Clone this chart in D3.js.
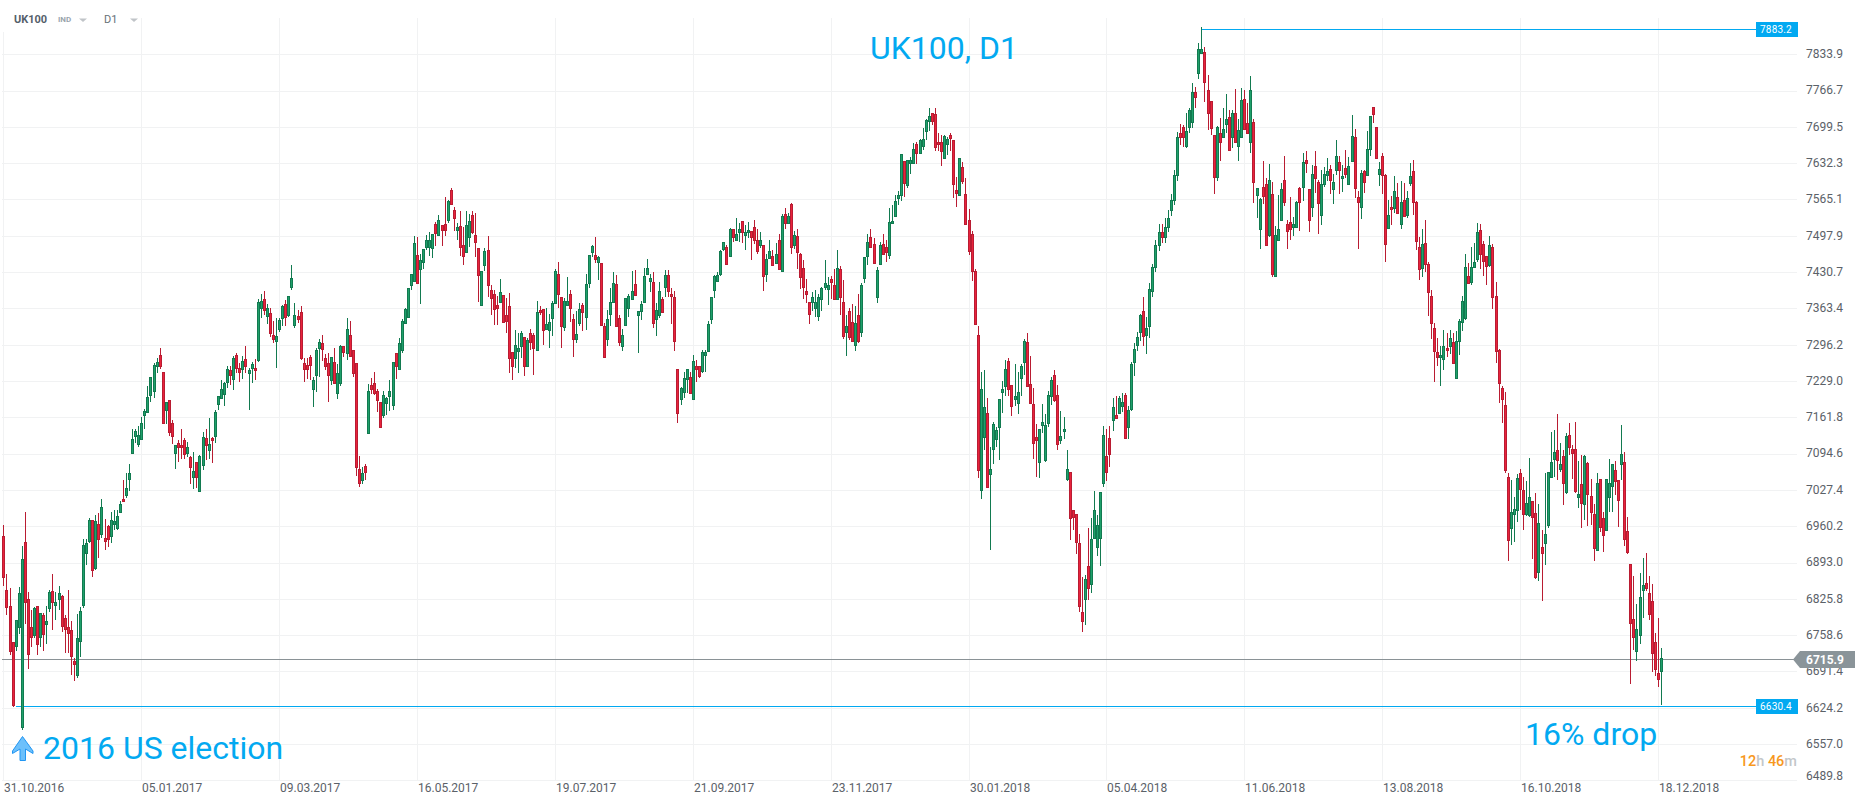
<!DOCTYPE html>
<html lang="en">
<head>
  <meta charset="UTF-8">
  <title>UK100, D1</title>
  <script src="https://d3js.org/d3.v7.min.js"></script>
  <style>
    html, body { margin: 0; background: #fff; }
    svg { display: block; font-family: Roboto, sans-serif; }
  </style>
</head>
<body>
  <svg width="1866" height="806"></svg>
  <script>
    // Daily candles as [open, high, low, close], one array per date tick
    const from31102016 = [[6942,6962,6850,6867],[6842,6871,6796,6811],[6813,6845,6722,6730],[6745,6745,6626,6629],[6738,6787,6730,6787],[6774,6848,6761,6836],[6588,6924,6582,6899],[6931,6987,6780,6819],[6825,6839,6696,6724],[6773,6805,6737,6756],[6759,6811,6753,6808],[6813,6813,6722,6742],[6756,6799,6737,6799],[6796,6799,6730,6761],[6779,6813,6742,6785],[6809,6843,6801,6838],[6840,6871,6768,6819],[6815,6839,6787,6820],[6825,6850,6805,6836],[6831,6832,6765,6776],[6790,6796,6726,6770],[6773,6843,6725,6762],[6768,6784,6685,6720],[6711,6716,6674,6706],[6684,6798,6680,6753],[6748,6810,6719,6803],[6815,6936,6809,6925],[6911,6937,6888,6930],[6932,6975,6929,6971],[6971,6971,6867,6880],[6882,6981,6879,6969],[6964,6984,6901,6936],[6946,7011,6938,6995],[6938,6973,6916,6933],[6961,6962,6922,6937],[6943,6987,6930,6971],[6964,6991,6953,6969],[6957,6990,6954,6979],[6987,7006,6987,7001],[7010,7046,7006,7006],[7018,7058,7012,7031],[7048,7075,7025,7058],[7096,7141,7096,7121],[7127,7141,7114,7136],[7113,7145,7106,7130]];
    const from05012017 = [[7122,7162,7120,7151],[7167,7178,7141,7174],[7172,7220,7169,7199],[7204,7236,7191,7236],[7211,7263,7197,7259],[7257,7271,7243,7265],[7277,7290,7251,7256],[7246,7246,7149,7151],[7175,7190,7149,7190],[7194,7194,7127,7135],[7151,7157,7112,7128],[7096,7111,7066,7110],[7114,7120,7079,7106],[7110,7140,7085,7106],[7119,7123,7084,7094],[7096,7117,7089,7106],[7088,7090,7038,7070],[7052,7098,7030,7062],[7080,7080,7031,7052],[7026,7092,7024,7091],[7074,7135,7064,7125],[7123,7141,7082,7111],[7101,7160,7084,7112],[7123,7126,7078,7119],[7128,7175,7115,7171],[7186,7201,7175,7201],[7198,7230,7195,7214],[7205,7228,7183,7225],[7228,7256,7217,7251],[7249,7257,7222,7241],[7233,7275,7212,7271],[7277,7280,7244,7254],[7253,7262,7228,7246],[7251,7275,7232,7267],[7269,7294,7244,7256],[7244,7253,7175,7249],[7253,7265,7225,7261],[7254,7269,7230,7249],[7268,7380,7265,7375],[7365,7390,7345,7378],[7380,7395,7352,7360],[7350,7372,7335,7365],[7355,7365,7310,7317],[7314,7340,7300,7306],[7304,7345,7254,7313]];
    const from09032017 = [[7325,7345,7320,7342],[7345,7370,7331,7367],[7371,7379,7330,7348],[7352,7386,7348,7386],[7404,7444,7397,7419],[7333,7373,7327,7352],[7349,7360,7336,7343],[7356,7367,7268,7272],[7262,7271,7228,7251],[7258,7271,7232,7252],[7273,7277,7231,7259],[7215,7236,7180,7230],[7241,7290,7209,7286],[7291,7306,7237,7302],[7299,7314,7267,7289],[7271,7279,7249,7257],[7262,7281,7190,7240],[7230,7273,7222,7273],[7265,7291,7223,7226],[7207,7260,7196,7243],[7225,7296,7220,7294],[7294,7294,7274,7283],[7280,7345,7268,7325],[7315,7340,7274,7275],[7286,7286,7237,7244],[7262,7262,7053,7070],[7067,7090,7032,7041],[7046,7070,7038,7058],[7071,7075,7046,7060],[7133,7223,7133,7210],[7221,7234,7205,7215],[7225,7246,7203,7206],[7210,7215,7172,7193],[7190,7190,7143,7143],[7166,7210,7160,7204],[7189,7200,7166,7197],[7202,7231,7174,7210],[7185,7264,7175,7264],[7280,7280,7233,7256],[7251,7308,7249,7299],[7287,7343,7281,7341],[7336,7364,7335,7362],[7348,7402,7346,7402],[7407,7428,7397,7428],[7414,7497,7413,7484]];
    const from16052017 = [[7462,7495,7410,7411],[7437,7465,7372,7453],[7450,7473,7437,7473],[7478,7499,7472,7491],[7478,7505,7460,7490],[7475,7502,7457,7502],[7519,7524,7479,7503],[7499,7536,7498,7528],[7517,7518,7479,7509],[7519,7569,7497,7509],[7527,7564,7522,7563],[7582,7586,7557,7557],[7545,7551,7507,7531],[7509,7521,7490,7514],[7516,7544,7460,7478],[7480,7515,7444,7461],[7468,7544,7468,7517],[7496,7538,7478,7526],[7536,7544,7501,7504],[7499,7541,7458,7487],[7475,7475,7375,7426],[7369,7433,7369,7432],[7444,7476,7433,7469],[7471,7497,7384,7407],[7397,7406,7352,7383],[7391,7397,7333,7363],[7369,7386,7333,7365],[7375,7418,7374,7393],[7389,7389,7338,7339],[7351,7383,7317,7341],[7367,7392,7244,7272],[7283,7283,7231,7257],[7272,7323,7253,7295],[7285,7317,7243,7290],[7294,7321,7271,7317],[7310,7310,7238,7256],[7257,7308,7257,7305],[7317,7326,7286,7302],[7315,7317,7240,7291],[7286,7377,7285,7356],[7360,7367,7351,7356],[7362,7362,7296,7323],[7325,7364,7323,7334],[7324,7354,7290,7339],[7346,7378,7312,7373]];
    const from19072017 = [[7374,7436,7374,7432],[7428,7449,7365,7391],[7384,7385,7291,7331],[7329,7382,7322,7377],[7369,7421,7367,7378],[7390,7397,7339,7365],[7344,7354,7274,7306],[7306,7359,7300,7316],[7337,7373,7331,7362],[7369,7373,7322,7356],[7348,7427,7323,7408],[7411,7463,7402,7463],[7468,7481,7458,7479],[7463,7495,7448,7454],[7449,7460,7416,7459],[7447,7447,7333,7333],[7330,7336,7274,7274],[7306,7360,7294,7343],[7354,7401,7330,7375],[7376,7430,7376,7410],[7408,7425,7330,7330],[7345,7351,7293,7302],[7294,7326,7285,7314],[7333,7382,7331,7382],[7365,7390,7348,7387],[7380,7433,7380,7395],[7408,7434,7389,7389],[7351,7359,7281,7358],[7359,7377,7342,7371],[7375,7438,7375,7423],[7428,7455,7428,7439],[7415,7428,7394,7420],[7413,7431,7328,7337],[7343,7373,7313,7360],[7352,7412,7346,7395],[7380,7385,7356,7356],[7404,7434,7385,7426],[7426,7434,7385,7396],[7391,7402,7335,7387],[7385,7396,7285,7304],[7251,7251,7152,7169],[7196,7218,7185,7217],[7209,7246,7198,7234],[7232,7252,7206,7252],[7236,7246,7207,7207]];
    const from21092017 = [[7196,7277,7193,7267],[7256,7268,7228,7252],[7257,7257,7235,7239],[7247,7286,7243,7282],[7278,7286,7246,7283],[7285,7340,7285,7334],[7344,7384,7335,7384],[7397,7425,7383,7423],[7415,7431,7415,7425],[7428,7472,7423,7470],[7474,7487,7470,7486],[7478,7481,7444,7446],[7461,7512,7459,7511],[7510,7511,7486,7496],[7491,7531,7491,7501],[7505,7521,7487,7510],[7525,7525,7485,7504],[7500,7518,7472,7504],[7504,7523,7493,7509],[7506,7506,7453,7496],[7514,7527,7483,7491],[7491,7510,7465,7470],[7480,7505,7476,7491],[7480,7480,7396,7424],[7428,7465,7413,7454],[7457,7490,7456,7469],[7460,7472,7442,7444],[7448,7484,7448,7465],[7491,7501,7435,7437],[7432,7539,7432,7534],[7539,7549,7511,7522],[7522,7541,7521,7534],[7557,7558,7464,7478],[7480,7507,7474,7499],[7497,7510,7436,7467],[7465,7466,7400,7421],[7439,7453,7381,7404],[7395,7418,7374,7391],[7376,7376,7335,7354],[7376,7393,7359,7384],[7364,7397,7348,7376],[7350,7391,7341,7384],[7381,7404,7359,7402],[7404,7453,7397,7410],[7400,7421,7370,7406]];
    const from23112017 = [[7417,7423,7381,7412],[7406,7436,7379,7381],[7381,7472,7379,7439],[7436,7442,7351,7384],[7375,7416,7307,7313],[7319,7351,7276,7330],[7358,7365,7305,7310],[7338,7371,7304,7304],[7296,7368,7285,7336],[7352,7391,7300,7304],[7320,7410,7311,7406],[7419,7459,7410,7458],[7461,7501,7444,7486],[7495,7510,7478,7478],[7482,7493,7446,7448],[7385,7441,7374,7434],[7446,7486,7444,7480],[7482,7502,7465,7465],[7478,7490,7449,7468],[7463,7549,7455,7523],[7521,7555,7520,7526],[7535,7573,7532,7562],[7567,7580,7555,7573],[7574,7649,7563,7649],[7636,7636,7570,7596],[7592,7639,7587,7639],[7633,7644,7613,7639],[7632,7669,7632,7658],[7667,7671,7631,7652],[7651,7678,7651,7675],[7665,7697,7657,7678],[7691,7715,7675,7713],[7710,7734,7692,7719],[7725,7726,7703,7711],[7723,7734,7655,7663],[7672,7689,7654,7668],[7671,7684,7627,7655],[7642,7684,7640,7683],[7667,7681,7647,7678],[7684,7689,7655,7679],[7675,7676,7567,7594],[7582,7606,7552,7578],[7574,7641,7572,7641],[7626,7634,7594,7600],[7576,7604,7518,7520]];
    const from30012018 = [[7528,7547,7462,7470],[7501,7507,7415,7433],[7432,7436,7333,7335],[7315,7331,7050,7065],[7027,7245,7011,7214],[7126,7249,7101,7180],[7169,7197,7032,7032],[7056,7106,6917,7067],[7103,7153,7075,7149],[7121,7143,7106,7138],[7143,7195,7083,7195],[7209,7229,7169,7215],[7219,7268,7201,7251],[7267,7272,7201,7214],[7221,7221,7164,7183],[7196,7260,7183,7201],[7188,7245,7168,7208],[7234,7260,7201,7256],[7265,7306,7240,7304],[7301,7318,7219,7219],[7223,7275,7189,7189],[7186,7217,7085,7115],[7125,7149,7052,7119],[7080,7140,7050,7140],[7147,7186,7132,7154],[7083,7168,7080,7147],[7152,7210,7143,7204],[7202,7236,7185,7230],[7241,7249,7190,7193],[7203,7222,7101,7113],[7119,7173,7112,7127],[7137,7162,7122,7141],[7048,7101,7043,7067],[7060,7060,6935,6975],[6990,6991,6953,6978],[6982,6983,6909,6931],[6930,6946,6802,6813],[6802,6866,6765,6785],[6825,6870,6777,6862],[6886,6956,6824,6845],[6854,6975,6836,6936],[6938,7025,6937,6990],[6922,6981,6905,6962],[6939,7023,6887,7023],[7041,7146,7033,7130]];
    const from05042018 = [[7091,7140,7043,7061],[7123,7146,7070,7094],[7156,7198,7137,7180],[7167,7201,7159,7161],[7169,7201,7168,7197],[7183,7206,7172,7191],[7204,7206,7123,7123],[7143,7182,7122,7175],[7178,7265,7174,7260],[7265,7299,7238,7288],[7295,7319,7285,7310],[7319,7353,7303,7351],[7358,7385,7294,7312],[7314,7348,7279,7327],[7330,7410,7309,7400],[7395,7445,7385,7440],[7440,7490,7430,7480],[7480,7520,7470,7505],[7505,7520,7485,7495],[7495,7530,7485,7515],[7515,7545,7505,7530],[7545,7575,7535,7565],[7565,7620,7555,7610],[7610,7690,7600,7680],[7688,7704,7666,7680],[7699,7703,7663,7680],[7665,7726,7661,7691],[7699,7734,7689,7730],[7708,7780,7697,7765],[7765,7773,7734,7754],[7799,7855,7789,7843],[7837,7884,7836,7843],[7839,7848,7746,7782],[7767,7795,7693,7725],[7747,7747,7684,7697],[7684,7684,7576,7606],[7607,7701,7600,7700],[7688,7716,7637,7672],[7680,7734,7680,7695],[7705,7760,7688,7715],[7717,7731,7655,7657],[7680,7731,7660,7725],[7726,7770,7669,7672],[7665,7714,7637,7693],[7681,7771,7680,7750]];
    const from11062018 = [[7752,7768,7695,7695],[7706,7743,7688,7688],[7672,7794,7652,7767],[7708,7715,7559,7598],[7574,7586,7530,7586],[7511,7567,7474,7566],[7588,7636,7557,7572],[7593,7604,7480,7480],[7500,7630,7496,7601],[7575,7598,7421,7428],[7424,7516,7424,7499],[7491,7573,7491,7510],[7528,7595,7527,7584],[7602,7646,7553,7560],[7519,7527,7474,7507],[7523,7570,7490,7510],[7515,7533,7498,7520],[7515,7562,7514,7560],[7586,7588,7506,7560],[7589,7651,7563,7634],[7638,7654,7614,7633],[7584,7585,7504,7527],[7552,7629,7533,7612],[7628,7655,7577,7605],[7597,7601,7502,7558],[7537,7620,7518,7594],[7594,7626,7588,7612],[7610,7641,7600,7618],[7622,7629,7575,7601],[7585,7613,7557,7597],[7620,7676,7610,7646],[7634,7646,7575,7620],[7604,7629,7579,7608],[7623,7657,7605,7613],[7594,7643,7592,7627],[7637,7721,7635,7682],[7680,7695,7568,7586],[7569,7580,7474,7561],[7552,7620,7529,7614],[7617,7619,7577,7598],[7610,7692,7610,7658],[7658,7720,7646,7719],[7736,7736,7706,7724],[7699,7699,7641,7641],[7613,7634,7590,7622]];
    const from13082018 = [[7645,7651,7575,7611],[7610,7612,7449,7483],[7513,7565,7510,7537],[7552,7572,7517,7548],[7549,7609,7540,7580],[7569,7595,7541,7541],[7519,7599,7511,7560],[7564,7595,7534,7534],[7537,7580,7530,7567],[7596,7632,7590,7608],[7617,7639,7536,7560],[7561,7562,7471,7489],[7478,7496,7416,7436],[7439,7510,7421,7483],[7484,7528,7431,7445],[7445,7450,7349,7394],[7386,7398,7307,7337],[7328,7336,7228,7285],[7283,7309,7256,7273],[7273,7294,7220,7278],[7269,7324,7249,7293],[7291,7317,7274,7287],[7293,7323,7279,7308],[7302,7317,7263,7263],[7234,7322,7234,7304],[7304,7343,7277,7340],[7339,7386,7322,7378],[7346,7464,7342,7441],[7423,7447,7410,7410],[7412,7478,7407,7441],[7441,7484,7441,7449],[7455,7522,7449,7504],[7508,7520,7436,7465],[7482,7488,7423,7452],[7460,7460,7407,7442],[7444,7497,7440,7480],[7477,7482,7362,7385],[7386,7413,7263,7285],[7286,7288,7189,7226],[7217,7220,7151,7195],[7184,7208,7059,7065],[7051,7058,6896,6935],[6956,7046,6926,6986],[6983,7014,6931,6993],[6991,7057,6968,7049]];
    const from16102018 = [[7058,7066,6990,7030],[7027,7051,6953,6983],[6982,7044,6980,7004],[6981,7086,6978,7014],[7006,7006,6900,6977],[6984,7021,6863,6867],[6875,7001,6859,6967],[6921,6953,6822,6910],[6930,7058,6889,6945],[6962,7060,6956,7060],[7051,7134,7051,7080],[7085,7138,7051,7097],[7102,7168,7045,7082],[7067,7114,7060,7075],[7091,7101,6999,7041],[7024,7132,7020,7128],[7130,7151,7092,7106],[7103,7111,7048,7096],[7104,7153,7022,7025],[7014,7081,6994,7020],[7038,7092,6957,7004],[7002,7092,6972,7091],[7078,7080,6961,7020],[7017,7047,6962,6987],[6982,7001,6896,6919],[6916,7058,6915,7041],[7047,7047,6950,6959],[6975,6987,6913,6944],[6954,7047,6954,7047],[7014,7084,6986,7040],[7035,7075,6987,7075],[7065,7081,7018,7044],[7045,7045,6959,7008],[7076,7148,7045,7093],[7080,7097,6923,6937],[6951,6978,6908,6913],[6891,6891,6668,6781],[6788,6868,6731,6756],[6730,6817,6711,6769],[6758,6873,6742,6830],[6843,6901,6790,6851],[6856,6910,6840,6845],[6836,6868,6787,6798],[6821,6853,6690,6726],[6745,6762,6682,6695]];
    const from18122018 = [[6688,6790,6663,6678],[6693,6734,6629,6716]];

    const dateLabels = ['31.10.2016', '05.01.2017', '09.03.2017', '16.05.2017', '19.07.2017', '21.09.2017', '23.11.2017', '30.01.2018', '05.04.2018', '11.06.2018', '13.08.2018', '16.10.2018', '18.12.2018'];
    const barsPerDateTick = 45;
    const priceTicks = [7833.9, 7766.7, 7699.5, 7632.3, 7565.1, 7497.9, 7430.7, 7363.4, 7296.2, 7229.0, 7161.8, 7094.6, 7027.4, 6960.2, 6893.0, 6825.8, 6758.6, 6691.4, 6624.2, 6557.0, 6489.8];

    const maxPrice = 7883.2;
    const minPrice = 6630.4;
    const lastPrice = 6715.9;
    const maxBar = 391;
    const minBar = 4;

    const candles = [].concat(from31102016, from05012017, from09032017, from16052017, from19072017, from21092017, from23112017, from30012018, from05042018, from11062018, from13082018, from16102018, from18122018);
    const dateIndex = dateLabels.map((d, k) => k * barsPerDateTick);

    const x = d3.scaleLinear().domain([0, 541]).range([3.9, 1661.5]);
    const y = d3.scaleLinear().domain([6489.8, 7833.9]).range([780.3, 54.3]);
    const px = i => Math.floor(x(i));
    const py = v => Math.round(y(v));
    // price lines sit about a pixel under the scale value in the reference
    const lineY = v => Math.round(y(v) + 1.2);

    const up = '#1fa06b', upEdge = '#127a50';
    const down = '#e8233c', downEdge = '#b91c32';
    const blue = '#02a9f1';
    const textGrey = '#5b6168';
    const gridColor = '#f1f2f3';

    const svg = d3.select('svg');

    // Grid
    const gridY = svg.append('g').attr('transform', 'translate(2,0)')
      .call(d3.axisRight(y).tickValues(priceTicks).tickSize(1795).tickFormat(''));
    gridY.select('.domain').remove();
    gridY.selectAll('.tick').attr('transform', d => `translate(0,${py(d) + 0.5})`);
    gridY.selectAll('line').attr('stroke', gridColor);

    const gridX = svg.append('g').attr('transform', 'translate(0,780)')
      .call(d3.axisTop(x).tickValues(dateIndex).tickSize(762).tickFormat(''));
    gridX.select('.domain').remove();
    gridX.selectAll('.tick').attr('transform', d => `translate(${px(d) + 0.5},0)`);
    gridX.selectAll('line').attr('stroke', gridColor);

    // Date axis labels, left aligned on the tick
    const xAxis = svg.append('g').attr('transform', 'translate(0,780)')
      .call(d3.axisBottom(x).tickValues(dateIndex).tickSize(0).tickPadding(3).tickFormat((d, k) => dateLabels[k]));
    xAxis.select('.domain').remove();
    xAxis.selectAll('.tick').attr('transform', d => `translate(${px(d) + 0.5},0)`);
    xAxis.selectAll('text')
      .attr('text-anchor', 'start').attr('x', 0.5).attr('dy', '0.71em')
      .attr('font-family', 'Roboto').attr('font-size', 12).attr('fill', textGrey);

    // Price axis labels; the bottom one is pushed up to stay inside the pane
    const yAxis = svg.append('g').attr('transform', 'translate(1806,0)')
      .call(d3.axisRight(y).tickValues(priceTicks).tickSize(0).tickPadding(0).tickFormat(d3.format('.1f')));
    yAxis.select('.domain').remove();
    yAxis.selectAll('text')
      .attr('y', d => d === 6489.8 ? -4.5 : -0.5)
      .attr('font-family', 'Roboto').attr('font-size', 12).attr('fill', textGrey);

    // Price lines, behind the candles
    const priceLine = (x1, v, x2, color) => svg.append('line')
      .attr('x1', x1).attr('x2', x2)
      .attr('y1', lineY(v) + 0.5).attr('y2', lineY(v) + 0.5)
      .attr('stroke', color).attr('stroke-width', 1);
    priceLine(2, lastPrice, 1795, '#8a9296');
    priceLine(px(minBar), minPrice, 1756, blue);
    priceLine(px(maxBar), maxPrice, 1756, blue);

    // Candles
    const bars = svg.append('g').selectAll('g')
      .data(candles)
      .enter()
      .append('g');

    bars.append('line')
      .attr('x1', (d, i) => px(i) + 0.5)
      .attr('x2', (d, i) => px(i) + 0.5)
      .attr('y1', d => py(d[1]))
      .attr('y2', d => py(d[2]))
      .attr('stroke', d => d[3] >= d[0] ? upEdge : downEdge)
      .attr('stroke-width', 1);

    bars.append('rect')
      .attr('x', (d, i) => px(i) - 0.5)
      .attr('width', 2)
      .attr('y', d => py(Math.max(d[0], d[3])) + 0.5)
      .attr('height', d => Math.max(1, py(Math.min(d[0], d[3])) - py(Math.max(d[0], d[3]))))
      .attr('fill', d => d[3] >= d[0] ? up : down)
      .attr('stroke', d => d[3] >= d[0] ? upEdge : downEdge)
      .attr('stroke-width', 1);

    // Badges for the max and min price lines
    [maxPrice, minPrice].forEach(v => {
      svg.append('rect')
        .attr('x', 1756).attr('y', lineY(v) - 7)
        .attr('width', 42).attr('height', 15)
        .attr('fill', blue);
      svg.append('text')
        .attr('x', 1760).attr('y', lineY(v) + 4)
        .attr('font-size', 10).attr('letter-spacing', 0.2).attr('fill', '#fff')
        .text(d3.format('.1f')(v));
    });

    // Badge for the last price
    const lastY = lineY(lastPrice) + 0.5;
    svg.append('path')
      .attr('d', `M1793,${lastY}L1800,${lastY - 8.5}H1855V${lastY + 8.5}H1800Z`)
      .attr('fill', '#8a9499');
    svg.append('text')
      .attr('x', 1806).attr('y', lastY + 4.5)
      .attr('font-size', 12).attr('font-weight', 700).attr('fill', '#fff')
      .text(d3.format('.1f')(lastPrice));

    // Annotations
    const note = (tx, ty, s) => svg.append('text')
      .attr('x', tx).attr('y', ty)
      .attr('font-size', 32).attr('fill', blue)
      .text(s);
    note(870, 59, 'UK100, D1');
    note(43, 759, '2016 US election');
    note(1525, 745, '16% drop');

    svg.append('path')
      .attr('d', 'M22.5,736.5L33,751V753.5L25.5,749V760.5H20V749L12.5,753.5V751Z')
      .attr('fill', '#6cc0fb')
      .attr('stroke', '#2196f3')
      .attr('stroke-width', 1);

    // Countdown
    const timer = svg.append('text')
      .attr('x', 1797).attr('y', 766)
      .attr('text-anchor', 'end')
      .attr('font-size', 14.5).attr('font-weight', 500);
    [['12', '#f7981d'], ['h ', '#c3c7ca'], ['46', '#f7981d'], ['m', '#c3c7ca']].forEach(p => {
      timer.append('tspan').attr('fill', p[1]).text(p[0]);
    });

    // Header
    const header = svg.append('g');
    header.append('rect').attr('x', 0).attr('y', 0).attr('width', 141).attr('height', 32).attr('fill', '#fff');
    header.append('text').attr('x', 14).attr('y', 23).attr('font-size', 11).attr('font-weight', 700).attr('fill', '#55606a').text('UK100');
    header.append('text').attr('x', 58).attr('y', 22).attr('font-size', 8).attr('font-weight', 700).attr('fill', '#9aa5ad').text('IND');
    header.append('text').attr('x', 104).attr('y', 23).attr('font-size', 11).attr('fill', '#667078').text('D1');
    [79, 130].forEach(tx => {
      header.append('path').attr('d', `M${tx},18.5H${tx + 8}L${tx + 4},22Z`).attr('fill', '#c0c4c8');
    });
  </script>
</body>
</html>
